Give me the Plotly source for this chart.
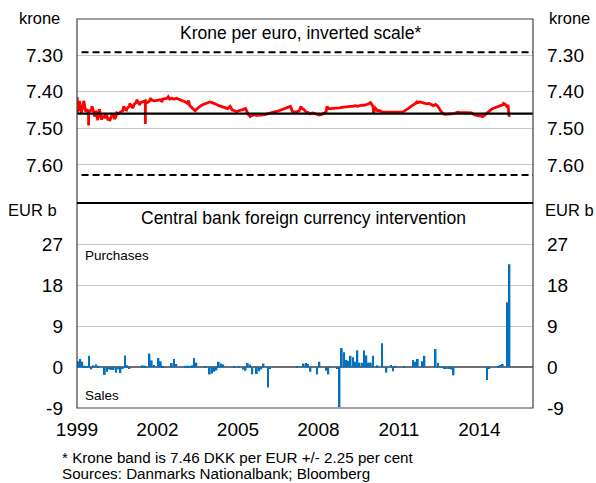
import pandas as pd
import plotly.graph_objects as go

# ---------------- data ----------------
central_rate = 7.46
band_pct = 2.25

# Krone per euro, monthly readings (Jan..Dec)
fx_1999 = [7.430, 7.440, 7.445, 7.440, 7.450, 7.455, 7.450, 7.455, 7.452, 7.460, 7.465, 7.468]
fx_2000 = [7.470, 7.468, 7.472, 7.470, 7.465, 7.468, 7.460, 7.455, 7.452, 7.448, 7.445, 7.440]
fx_2001 = [7.440, 7.435, 7.430, 7.428, 7.430, 7.428, 7.425, 7.430, 7.425, 7.423, 7.425, 7.425]
fx_2002 = [7.423, 7.422, 7.420, 7.420, 7.418, 7.420, 7.418, 7.420, 7.418, 7.420, 7.422, 7.425]
fx_2003 = [7.428, 7.432, 7.438, 7.445, 7.450, 7.448, 7.442, 7.438, 7.435, 7.432, 7.430, 7.428]
fx_2004 = [7.430, 7.432, 7.435, 7.438, 7.440, 7.442, 7.445, 7.446, 7.440, 7.450, 7.452, 7.455]
fx_2005 = [7.452, 7.450, 7.448, 7.446, 7.460, 7.468, 7.465, 7.463, 7.465, 7.463, 7.464, 7.462]
fx_2006 = [7.462, 7.460, 7.458, 7.457, 7.455, 7.454, 7.452, 7.450, 7.448, 7.446, 7.442, 7.440]
fx_2007 = [7.455, 7.456, 7.455, 7.452, 7.445, 7.448, 7.455, 7.458, 7.460, 7.458, 7.460, 7.462]
fx_2008 = [7.464, 7.462, 7.458, 7.455, 7.446, 7.446, 7.446, 7.445, 7.445, 7.444, 7.443, 7.442]
fx_2009 = [7.442, 7.440, 7.440, 7.440, 7.438, 7.440, 7.438, 7.437, 7.437, 7.436, 7.433, 7.432]
fx_2010 = [7.440, 7.445, 7.452, 7.452, 7.455, 7.455, 7.456, 7.455, 7.456, 7.455, 7.456, 7.455]
fx_2011 = [7.455, 7.456, 7.453, 7.450, 7.445, 7.440, 7.437, 7.432, 7.430, 7.428, 7.430, 7.432]
fx_2012 = [7.433, 7.432, 7.435, 7.438, 7.435, 7.440, 7.450, 7.458, 7.462, 7.462, 7.461, 7.460]
fx_2013 = [7.460, 7.458, 7.456, 7.457, 7.458, 7.457, 7.457, 7.458, 7.458, 7.462, 7.465, 7.466]
fx_2014 = [7.466, 7.468, 7.464, 7.458, 7.452, 7.448, 7.445, 7.442, 7.440, 7.438, 7.436, 7.434]
fx_2015 = [7.442, 7.465]

# short-lived moves seen in the daily series
fx_spike_dates = ["1999-01-04", "1999-01-08", "1999-01-12", "1999-01-20", "1999-02-03",
                  "1999-02-20", "1999-03-01", "1999-04-05", "1999-05-02", "1999-06-07",
                  "1999-06-08", "1999-06-09", "1999-07-25", "1999-08-28", "1999-10-10",
                  "1999-11-05", "1999-12-02", "2000-01-25", "2000-02-26", "2000-03-20",
                  "2000-04-25", "2000-05-28", "2000-06-25", "2000-09-28", "2000-11-05",
                  "2000-12-20", "2001-02-01", "2001-03-28", "2001-05-02", "2001-07-19",
                  "2001-07-20", "2001-07-21", "2001-09-28", "2002-03-01", "2002-05-28",
                  "2003-02-28", "2003-05-28", "2007-05-10", "2008-04-28", "2009-12-10",
                  "2010-01-20", "2011-09-10", "2014-11-25", "2015-01-25", "2015-02-10"]
fx_spike_values = [7.415, 7.458, 7.420, 7.452, 7.425,
                   7.450, 7.458, 7.425, 7.455, 7.452,
                   7.492, 7.450, 7.440, 7.468, 7.478,
                   7.448, 7.476, 7.462, 7.478, 7.480,
                   7.462, 7.475, 7.458, 7.440, 7.450,
                   7.432, 7.445, 7.422, 7.436, 7.425,
                   7.488, 7.428, 7.418, 7.428, 7.414,
                   7.424, 7.452, 7.440, 7.440, 7.430,
                   7.458, 7.426, 7.432, 7.435, 7.468]

# Intervention, EUR bn, monthly (positive = purchases, negative = sales)
iv_1999 = [1.3, 1.8, 1.2, 0.3, 0.2, 2.5, -0.5, 0.4, 0.6, 0.3, 0.0, 0.0]
iv_2000 = [-1.7, -1.0, -0.5, -0.6, -0.6, -1.2, -0.5, -1.3, -0.3, 2.6, 0.4, -0.4]
iv_2001 = [0.0, 0.0, 0.0, 0.0, 0.0, 0.4, 0.3, 0.0, 3.0, 1.5, 0.5, 0.0]
iv_2002 = [2.0, 1.3, 0.3, 0.0, 0.0, 0.0, 0.9, 1.8, 0.7, 0.0, 0.0, 0.0]
iv_2003 = [0.3, 0.3, 0.3, 0.4, 2.0, 1.0, 0.0, 0.0, 0.0, 0.2, 0.0, -1.6]
iv_2004 = [-1.4, -1.0, -0.7, 1.2, 0.8, 0.6, 0.0, 0.0, 0.0, 0.0, 0.2, 0.0]
iv_2005 = [0.2, 0.0, -0.5, -0.8, 0.9, 0.6, -1.6, 0.0, -1.5, -0.9, -0.5, 0.8]
iv_2006 = [0.0, -4.5, -0.2, 0.0, 0.0, 0.0, 0.0, 0.0, 0.0, 0.0, 0.0, 0.0]
iv_2007 = [0.0, 0.0, 0.2, 0.0, 0.0, 0.8, 0.9, 0.7, -1.0, 0.0, 0.0, -1.6]
iv_2008 = [1.2, 0.0, 0.0, -0.8, -1.6, 0.0, 0.0, 0.0, -0.3, -8.8, 4.2, 3.3]
iv_2009 = [1.6, 1.4, 2.5, 2.2, 1.2, 3.7, 1.0, 1.0, 3.7, 2.6, 1.0, 1.0]
iv_2010 = [2.5, 0.0, 0.4, 0.0, 5.3, 0.0, -1.2, 0.0, 0.5, -0.9, 0.3, 0.0]
iv_2011 = [0.0, 0.0, 0.1, 0.0, 0.0, 0.0, 1.6, 1.2, 1.8, 0.0, 1.3, 2.5]
iv_2012 = [0.0, 0.0, 0.0, 0.0, 4.0, 1.0, 0.0, -0.1, -0.2, -0.2, -0.3, -0.5]
iv_2013 = [-1.8, 0.0, 0.0, 0.0, 0.0, 0.0, 0.0, 0.0, 0.0, 0.0, 0.0, 0.0]
iv_2014 = [0.0, 0.0, 0.0, -2.8, -0.3, 0.0, 0.0, 0.0, 0.3, 0.5, 0.7, 0.0]
iv_2015 = [14.3, 22.7]

year_ticks = ["1999", "2002", "2005", "2008", "2011", "2014"]
fx_ticks = [7.30, 7.40, 7.50, 7.60]
iv_ticks = [-9, 0, 9, 18, 27]

# ---------------- assemble ----------------
fx_monthly = (fx_1999 + fx_2000 + fx_2001 + fx_2002 + fx_2003 + fx_2004 + fx_2005 + fx_2006
              + fx_2007 + fx_2008 + fx_2009 + fx_2010 + fx_2011 + fx_2012 + fx_2013 + fx_2014 + fx_2015)
iv_monthly = (iv_1999 + iv_2000 + iv_2001 + iv_2002 + iv_2003 + iv_2004 + iv_2005 + iv_2006
              + iv_2007 + iv_2008 + iv_2009 + iv_2010 + iv_2011 + iv_2012 + iv_2013 + iv_2014 + iv_2015)

fx_months = pd.date_range("1999-01-01", periods=len(fx_monthly), freq="MS") + pd.Timedelta(days=14)
iv_months = pd.date_range("1999-01-01", periods=len(iv_monthly), freq="MS") + pd.Timedelta(days=14)

fx_df = pd.concat([
    pd.DataFrame({"date": fx_months, "v": fx_monthly}),
    pd.DataFrame({"date": pd.to_datetime(fx_spike_dates), "v": fx_spike_values}),
]).sort_values("date")

upper = central_rate * (1 - band_pct / 100)
lower = central_rate * (1 + band_pct / 100)

FONT = "Liberation Sans, Arial, sans-serif"
x_range = ["1999-01-01", "2016-01-01"]
fx_range = [7.704, 7.2014]
iv_range = [-9, 36.2]
split = 0.527

fig = go.Figure()
fig.add_trace(go.Scatter(x=fx_df["date"], y=fx_df["v"], mode="lines",
                         line=dict(color="#FF0000", width=2.8), xaxis="x", yaxis="y",
                         showlegend=False, hoverinfo="skip"))
fig.add_trace(go.Scatter(x=[], y=[], xaxis="x", yaxis="y3", showlegend=False, hoverinfo="skip"))
fig.add_trace(go.Bar(x=iv_months, y=iv_monthly, marker=dict(color="#0070C0", line_width=0),
                     xaxis="x2", yaxis="y2", showlegend=False, hoverinfo="skip"))
fig.add_trace(go.Scatter(x=[], y=[], xaxis="x2", yaxis="y4", showlegend=False, hoverinfo="skip"))

tickfont = dict(family=FONT, size=19, color="#000000")
ycommon = dict(showline=False, ticks="", zeroline=False, tickfont=tickfont, ticklabelstandoff=13)
iv_text = [str(v) for v in iv_ticks]

fig.update_layout(
    width=596, height=483,
    margin=dict(l=77, r=60, t=19, b=75),
    paper_bgcolor="white", plot_bgcolor="white",
    bargap=0.15,
    font=dict(family=FONT, color="#000000"),
    xaxis=dict(domain=[0, 1], anchor="y", range=x_range, type="date", showticklabels=False,
               showgrid=False, zeroline=False, ticks="", showline=False),
    xaxis2=dict(domain=[0, 1], anchor="y2", range=x_range, type="date",
                tickvals=[y + "-01-01" for y in year_ticks], ticktext=year_ticks,
                showgrid=False, zeroline=False, ticks="", showline=False,
                tickfont=tickfont, ticklabelstandoff=8),
    yaxis=dict(domain=[split, 1], anchor="x", range=fx_range, tickvals=fx_ticks,
               tickformat=".2f", showgrid=True, gridcolor="#C8C8C8", gridwidth=1.3, **ycommon),
    yaxis3=dict(overlaying="y", side="right", anchor="x", range=fx_range, tickvals=fx_ticks,
                tickformat=".2f", showgrid=False, **ycommon),
    yaxis2=dict(domain=[0, split], anchor="x2", range=iv_range, tickvals=iv_ticks, ticktext=iv_text,
                showgrid=True, gridcolor="#C8C8C8", gridwidth=1.3,
                showline=False, ticks="", tickfont=tickfont, ticklabelstandoff=13,
                zeroline=True, zerolinecolor="#707070", zerolinewidth=1.5),
    yaxis4=dict(overlaying="y2", side="right", anchor="x2", range=iv_range, tickvals=iv_ticks,
                ticktext=iv_text, showgrid=False, **ycommon),
)

# reference lines in the krone panel
fig.add_shape(type="line", xref="x domain", yref="y", x0=0, x1=1, y0=central_rate, y1=central_rate,
              line=dict(color="#000000", width=2.2))
for lvl in (upper, lower):
    fig.add_shape(type="line", xref="x domain", yref="y", x0=0.01, x1=1, y0=lvl, y1=lvl,
                  line=dict(color="#000000", width=2, dash="7px,4px"))

# frame and divider
fig.add_shape(type="rect", xref="paper", yref="paper", x0=0, x1=1, y0=0, y1=1,
              line=dict(color="#404040", width=1.2))
fig.add_shape(type="line", xref="paper", yref="paper", x0=0, x1=1, y0=split, y1=split,
              line=dict(color="#000000", width=2))

def ann(text, x, y, size, xanchor="center", yanchor="middle"):
    fig.add_annotation(text=text, xref="paper", yref="paper", x=x, y=y, showarrow=False,
                       xanchor=xanchor, yanchor=yanchor,
                       font=dict(family=FONT, size=size, color="#000000"))

ann("krone", -0.083, 1.003, 16.5)
ann("krone", 1.081, 1.003, 16.5)
ann("EUR b", -0.097, 0.509, 16.5)
ann("EUR b", 1.081, 0.509, 16.5)
ann("Krone per euro, inverted scale*", 0.49, 0.963, 17.5)
ann("Central bank foreign currency intervention", 0.497, 0.488, 17.5)
ann("Purchases", 0.013, 0.391, 13.5, xanchor="left")
ann("Sales", 0.013, 0.031, 13.5, xanchor="left")
ann("* Krone band is 7.46 DKK per EUR +/- 2.25 per cent", -0.037, -0.126, 15.2, xanchor="left")
ann("Sources: Danmarks Nationalbank; Bloomberg", -0.037, -0.168, 15.2, xanchor="left")

fig.write_html("out.html", config={"displayModeBar": False},
               post_script="document.body.style.margin='0';document.body.style.padding='0';")
